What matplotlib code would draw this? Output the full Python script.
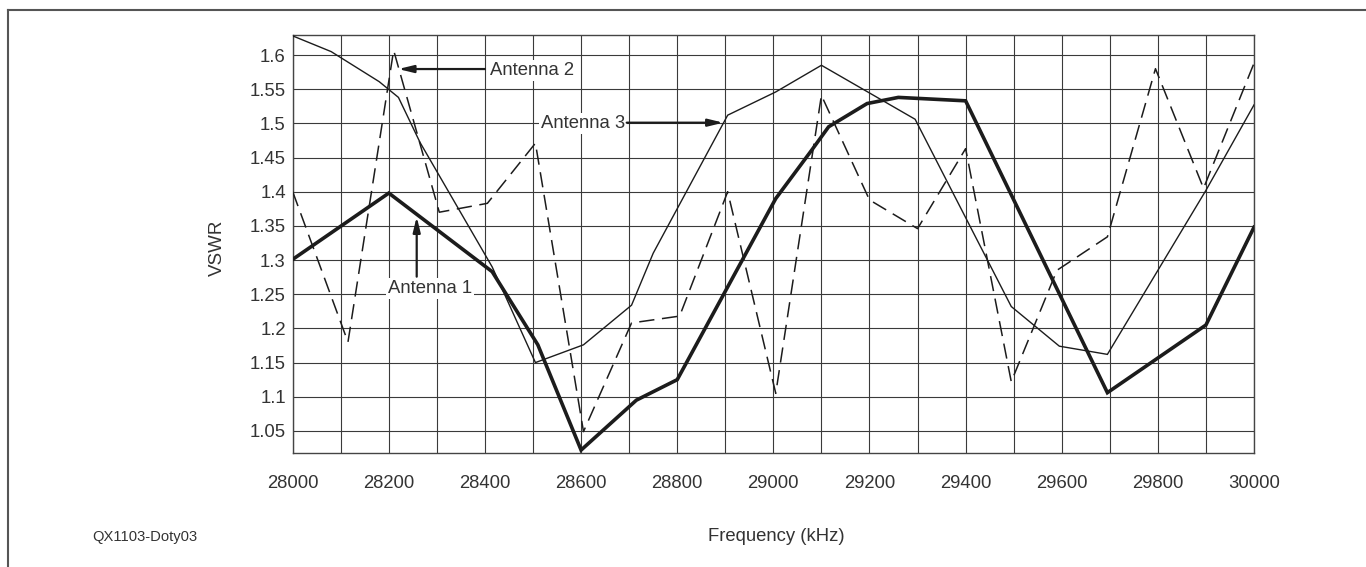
import matplotlib
matplotlib.use("Agg")
import matplotlib.pyplot as plt
from matplotlib.lines import Line2D
from matplotlib.ticker import MultipleLocator, FuncFormatter

# ---- data ----
freq_ant1 = [28000, 28200, 28415, 28510, 28600, 28715, 28800, 29005, 29080,
             29115, 29195, 29260, 29400, 29695, 29900, 30000]
vswr_ant1 = [1.301, 1.398, 1.283, 1.176, 1.022, 1.095, 1.125, 1.390, 1.461,
             1.495, 1.529, 1.538, 1.533, 1.106, 1.205, 1.348]

freq_ant2 = [28000, 28115, 28210, 28305, 28405, 28505, 28605, 28705, 28805,
             28905, 29005, 29100, 29200, 29300, 29400, 29495, 29590, 29695,
             29795, 29895, 30000]
vswr_ant2 = [1.400, 1.180, 1.607, 1.370, 1.383, 1.471, 1.049, 1.208, 1.218,
             1.400, 1.105, 1.541, 1.388, 1.346, 1.463, 1.122, 1.285, 1.334,
             1.580, 1.405, 1.588]

freq_ant3 = [28000, 28080, 28180, 28220, 28265, 28415, 28505, 28605, 28705,
             28750, 28905, 29005, 29100, 29295, 29495, 29595, 29695, 29900,
             30000]
vswr_ant3 = [1.628, 1.605, 1.561, 1.538, 1.472, 1.290, 1.150, 1.176, 1.234,
             1.310, 1.512, 1.546, 1.585, 1.506, 1.232, 1.174, 1.162, 1.402,
             1.527]

y_ticks = [1.05, 1.1, 1.15, 1.2, 1.25, 1.3, 1.35, 1.4, 1.45, 1.5, 1.55, 1.6]
x_ticks = [28000, 28200, 28400, 28600, 28800, 29000, 29200, 29400, 29600,
           29800, 30000]

# ---- styling ----
plt.rcParams['font.family'] = ['Liberation Sans', 'DejaVu Sans']
plt.rcParams['lines.scale_dashes'] = False
TXT = '#333333'
LINE = '#1c1c1c'
GRID = '#3a3a3a'

fig = plt.figure(figsize=(13.66, 5.67), dpi=100)
ax = fig.add_axes([292.7 / 1366, 1 - 453 / 567, (1254 - 292.7) / 1366, (453 - 35) / 567])

ax.plot(freq_ant3, vswr_ant3, color=LINE, lw=1.0, zorder=3, solid_joinstyle='miter')
ax.plot(freq_ant2, vswr_ant2, color=LINE, lw=1.1, dashes=(11, 5.5), zorder=3)
ax.plot(freq_ant1, vswr_ant1, color=LINE, lw=2.6, zorder=4, solid_joinstyle='miter')

ax.set_xlim(28000, 30000)
ax.set_ylim(1.0177, 1.6293)
ax.set_xticks(x_ticks)
ax.xaxis.set_minor_locator(MultipleLocator(100))
ax.set_yticks(y_ticks)
ax.yaxis.set_major_formatter(FuncFormatter(lambda v, p: f"{v:g}"))
ax.grid(True, which='both', color=GRID, lw=0.8, zorder=1)
ax.set_axisbelow(True)
ax.tick_params(axis='both', which='both', length=0, labelsize=13.3, colors=TXT)
ax.tick_params(axis='x', pad=16)
ax.tick_params(axis='y', pad=5)
for s in ax.spines.values():
    s.set_color('#444444')
    s.set_linewidth(1.0)

ax.set_ylabel('VSWR', fontsize=13.5, color=TXT)
ax.yaxis.set_label_coords(-0.069, 0.49)
ax.set_xlabel('Frequency (kHz)', fontsize=13.3, color=TXT)
ax.xaxis.set_label_coords(0.503, -0.179)

# ---- annotations ----
bbox = dict(facecolor='white', edgecolor='none', pad=1.5)
ax.text(28285.6, 1.2587, 'Antenna 1', fontsize=13.3, color=TXT, ha='center',
        va='center', bbox=bbox, zorder=6)
ax.text(28497, 1.578, 'Antenna 2', fontsize=13.3, color=TXT, ha='center',
        va='center', bbox=bbox, zorder=6)
ax.text(28604.6, 1.5001, 'Antenna 3', fontsize=13.3, color=TXT, ha='center',
        va='center', bbox=bbox, zorder=6)

arrow = dict(arrowstyle='-|>,head_length=0.9,head_width=0.22', color=LINE,
             lw=1.6, shrinkA=0, shrinkB=0)
ax.annotate('', xy=(28258, 1.3634), xytext=(28258, 1.2757), arrowprops=arrow, zorder=7)
ax.annotate('', xy=(28219.7, 1.5795), xytext=(28400, 1.5795), arrowprops=arrow, zorder=7)
ax.annotate('', xy=(28895.9, 1.501), xytext=(28694.9, 1.501), arrowprops=arrow, zorder=7)

# ---- footer label and page frame ----
fig.text(145 / 1366, 1 - 537 / 567, 'QX1103-Doty03', fontsize=10.6, color=TXT,
         ha='center', va='center')
fig.add_artist(Line2D([8 / 1366, 8 / 1366], [0, 1 - 9.5 / 567], color='#555555', lw=1.5,
                      transform=fig.transFigure))
fig.add_artist(Line2D([8 / 1366, 1], [1 - 9.5 / 567, 1 - 9.5 / 567], color='#555555', lw=1.5,
                      transform=fig.transFigure))

fig.savefig('out.png', dpi=100, facecolor='white')
